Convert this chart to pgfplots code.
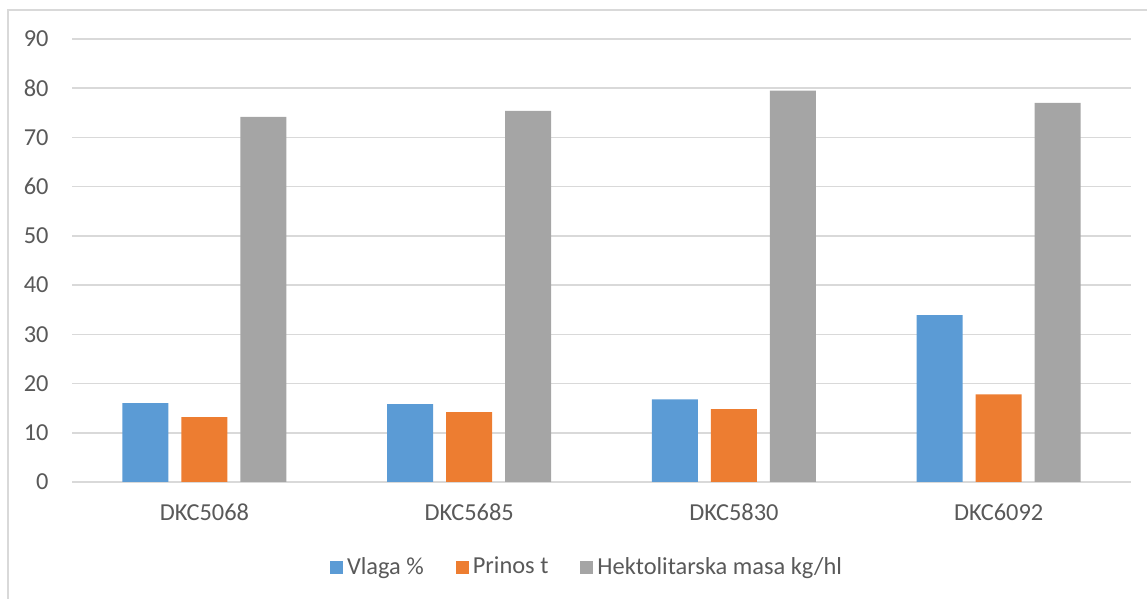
\documentclass[border=0pt]{standalone}
\usepackage{fontspec}
\setmainfont{Carlito}
\usepackage{pgfplots}
\pgfplotsset{compat=1.18}
\definecolor{cBlue}{HTML}{5B9BD5}
\definecolor{cOrange}{HTML}{ED7D31}
\definecolor{cGray}{HTML}{A5A5A5}
\definecolor{cText}{HTML}{595959}
\definecolor{cGrid}{HTML}{D9D9D9}
\begin{document}
\begin{tikzpicture}
\useasboundingbox (0,0) rectangle (573.5pt,299.5pt);
\draw[cGrid, line width=0.75pt] (4pt,-2pt) -- (4pt,294.5pt) -- (575pt,294.5pt);
\begin{axis}[
  at={(36pt,58.5pt)}, anchor=south west,
  scale only axis, width=529.5pt, height=221.5pt,
  xmin=-0.5, xmax=3.5, ymin=0, ymax=90,
  xtick={0,1,2,3},
  xticklabels={DKC5068,DKC5685,DKC5830,DKC6092},
  ytick={0,10,...,90},
  major tick length=0pt,
  axis line style={draw=none},
  ymajorgrids, grid style={cGrid, line width=0.75pt},
  /pgf/number format/assume math mode=true,
  tick label style={font=\fontsize{12.2pt}{14pt}\selectfont, text=cText, inner sep=0pt},
  yticklabel style={anchor=east, xshift=-11.5pt},
  xticklabel style={anchor=base, yshift=-19.4pt},
  legend columns=3,
  legend style={at={(0.4873,-0.192)}, anchor=center, draw=none, fill=none,
    font=\fontsize{12.2pt}{14pt}\selectfont, text=cText,
    /tikz/every even column/.append style={column sep=14pt}},
  legend image code/.code={\fill[#1] (-2.5pt,-3.25pt) rectangle (4pt,3.25pt);},
]
\addplot[ybar, bar width=23pt, bar shift=-29.5pt, fill=cBlue, draw=none]
  coordinates {(0,16.0) (1,15.8) (2,16.8) (3,33.9)};
\addlegendentry{Vlaga \%}
\addplot[ybar, bar width=23pt, bar shift=0pt, fill=cOrange, draw=none]
  coordinates {(0,13.2) (1,14.2) (2,14.8) (3,17.8)};
\addlegendentry{Prinos t}
\addplot[ybar, bar width=23pt, bar shift=29.5pt, fill=cGray, draw=none]
  coordinates {(0,74.2) (1,75.4) (2,79.5) (3,77.0)};
\addlegendentry{Hektolitarska masa kg/hl}
\end{axis}
\end{tikzpicture}
\end{document}
